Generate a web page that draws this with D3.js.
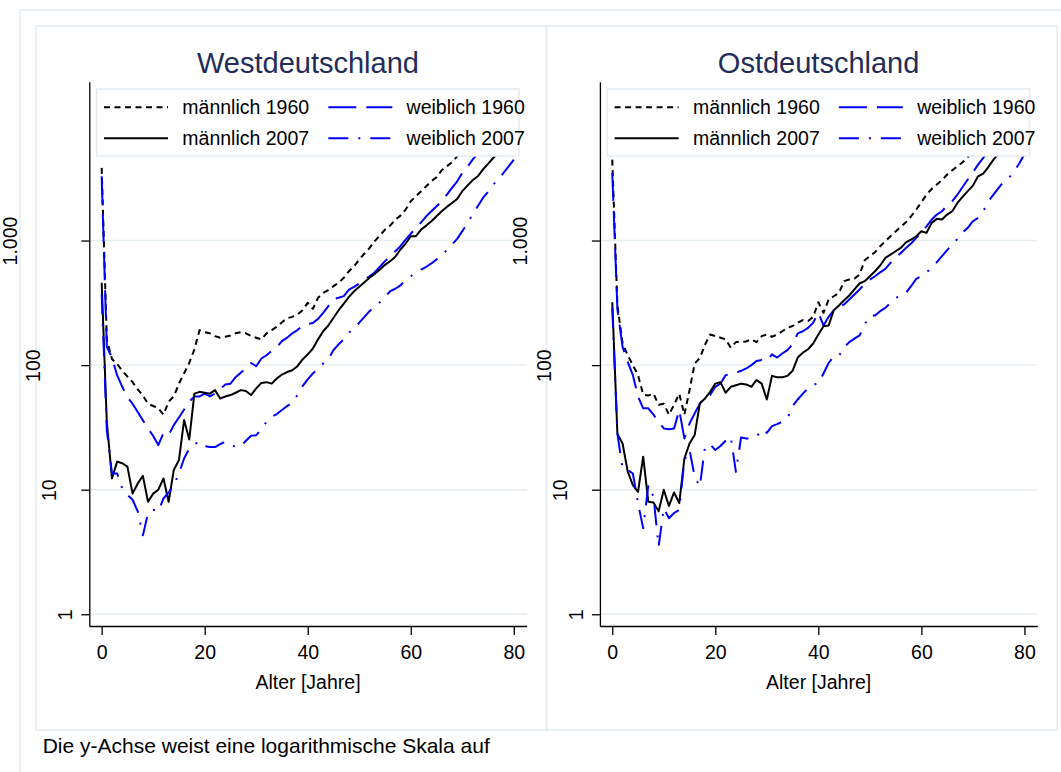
<!DOCTYPE html>
<html lang="de">
<head>
  <meta charset="UTF-8">
  <title>Sterblichkeit nach Alter</title>
  <script src="https://d3js.org/d3.v7.min.js"></script>
  <style>
    body { margin: 0; background: #fff; }
    svg { display: block; }
    text { font-family: "Liberation Sans", Arial, Helvetica, sans-serif; }
  </style>
</head>
<body>
  <svg id="chart" width="1061" height="772"></svg>
  <script>
    // ---- data (Sterbefälle je 100.000, log-Skala) ----
    const ages = [0,1,2,3,4,5,6,7,8,9,10,11,12,13,14,15,16,17,18,19,20,21,22,23,24,25,26,27,28,29,30,
      31,32,33,34,35,36,37,38,39,40,41,42,43,44,45,46,47,48,49,50,51,52,53,54,55,56,57,58,59,60,
      61,62,63,64,65,66,67,68,69,70,71,72,73,74,75,76,77,78,79,80];

    const regions = ["Westdeutschland", "Ostdeutschland"];
    const seriesNames = ["männlich 1960", "weiblich 1960", "männlich 2007", "weiblich 2007"];

    const westMale1960 = [3830,160,112,102,90,81,73,64,57,49,47,45,40,51,56,71,86,104,134,191,
      184,180,171,166,169,173,180,184,180,171,166,161,180,191,203,221,238,244,255,276,
      316,283,347,380,400,430,458,502,567,622,704,787,872,988,1097,1225,1318,1473,1585,1773,
      2069,2270,2490,2730,2995,3223,3666,3948,4250,4747,5250,5800,6400,7000,7700,8400,9200,10100,11000,12000,13000];
    const westFemale1960 = [3280,140,115,83,67,55,49,42,36,31,27,22.8,28.6,27.5,33,38,44,51,56,56,
      59,56,59,64,70,71,80,87,94,104,98,113,120,130,140,156,166,180,191,208,
      214,218,235,263,297,340,347,358,404,425,452,486,517,556,616,683,749,821,901,1018,
      1137,1260,1400,1566,1719,1884,2068,2340,2645,2990,3490,3900,4460,5000,5600,6300,7100,8000,9000,10000,11200];
    const westMale2007 = [458,35,12.3,16.8,16.3,15.3,9.3,11.2,12.9,8.0,9.3,10,12.3,8.0,14.4,17.3,36.2,25.3,59,61,
      60,59,63,54,56,57.5,60,63,62,57.5,65,72,73,71,78,84,88,91,98,111,
      122,136,161,187,208,240,276,312,353,392,425,463,502,540,585,638,683,741,847,946,
      1083,1083,1225,1318,1429,1566,1719,1862,2000,2158,2490,2760,3050,3280,3715,4120,4600,5100,5700,6300,7000];
    const westFemale2007 = [370,30,13.5,13.5,10.2,9.1,8.3,6.7,4.3,6.5,6.9,6.7,8.5,9.5,10.9,13.5,17.8,21.4,23.2,24.3,
      22.4,22,22,23.2,24.3,23.2,22,22.4,24.7,27.1,27.4,30.5,35.1,38.5,40.5,43.6,46.9,49.9,57.5,67.9,
      76.8,85.7,94,103,112,132,147,161,182,200,219,244,271,294,320,353,392,410,436,486,
      517,550,585,616,655,705,759,838,929,1031,1189,1386,1618,1884,2198,2455,2815,3090,3490,3945,4465];

    const eastMale1960 = [4460,300,150,120,100,83,58,57,59,48,49,40,48,59,40,63,103,114,146,176,
      171,166,161,138,153,153,155,161,153,171,176,169,176,187,199,206,219,230,226,244,
      320,263,336,357,380,472,486,495,533,695,749,806,901,988,1083,1180,1287,1403,1567,1773,
      2029,2338,2595,2816,3050,3390,3666,3948,4250,4680,5200,5800,6500,7200,8000,8800,9700,10700,11800,13000,14300];
    const eastFemale1960 = [3490,280,140,106,83,56,45,45,40,35,31,30.5,31,43.6,25.8,34,41,49,55,57.5,
      67,71,83,85,87,90,94,100,108,110,108,122,115,124,132,147,180,187,199,219,
      263,208,244,276,294,307,336,369,404,452,486,517,556,593,661,725,795,872,946,1050,
      1152,1302,1473,1617,1719,1908,2068,2340,2692,3090,3535,4070,4600,5200,5900,6700,7600,8600,9700,10900,12200];
    const eastMale2007 = [320,28,23.5,14,10.9,9.6,18.4,8.0,7.9,6.7,10,7.4,9.5,7.8,17.8,23.5,27.5,49.3,54,61,
      71,73,60,67,69,71,70,67,76,71,53,82,80,80,82,90,115,126,134,149,
      176,205,208,276,301,332,362,405,452,472,517,567,630,725,771,821,872,968,1018,1083,
      1188,1152,1386,1493,1475,1617,1719,2005,2240,2490,2760,3280,3445,3890,4460,5000,5600,6200,6900,7600,8400];
    const eastFemale2007 = [290,28,14.8,14.4,13.5,7.8,4.9,10.9,8.8,3.5,7.1,5.9,6.5,6.9,17.3,20.8,12.7,10.6,22.1,23.2,
      20.8,22.4,24.7,26.6,13.9,26.3,25.8,25.8,26.6,30.5,28.6,32.4,33.6,35.1,37.3,46.9,53,59,65,70,
      71,85.7,104,118,118,139,153,163,173,212,250,250,271,288,316,347,357,380,430,493,
      517,556,603,670,749,837,929,1031,1166,1264,1429,1520,1719,2068,2340,2645,2990,3185,3600,4150,4930];

    const panelSeries = [
      [westMale1960, westFemale1960, westMale2007, westFemale2007],
      [eastMale1960, eastFemale1960, eastMale2007, eastFemale2007]
    ];

    const xTicks = [0, 20, 40, 60, 80];
    const yTicks = [1, 10, 100, 1000];
    const yTickLabels = ["1", "10", "100", "1.000"];

    // ---- styles ----
    const seriesColor = ["#000", "#0000ff", "#000", "#0000ff"];
    const seriesDash = ["6,4.5", "28,10", null, "20,10,2,10"];
    const frameColor = "#e4ecf0";
    const gridColor = "#e6eef2";
    const titleColor = "#1f2d58";

    const svg = d3.select("#chart");
    svg.append("rect").attr("width", 1061).attr("height", 772).attr("fill", "#fff");

    // outer frame + panel frames
    svg.append("rect").attr("x", 20).attr("y", 10).attr("width", 1100).attr("height", 800)
      .attr("fill", "none").attr("stroke", frameColor).attr("stroke-width", 1.5);

    const panelW = 510.6, plotW = 437.4, plotH = 544.3;
    const x = d3.scaleLinear().domain([-2.4, 82.5]).range([0, plotW]);
    const y = d3.scaleLog().domain([0.805, 18840]).range([plotH, 0]);

    const line = d3.line().x((d, i) => x(ages[i])).y(d => y(d));

    regions.forEach((region, p) => {
      const left = 36 + p * panelW;
      svg.append("rect").attr("x", left).attr("y", 26).attr("width", panelW).attr("height", 704)
        .attr("fill", "none").attr("stroke", frameColor).attr("stroke-width", 1.5);
    });

    regions.forEach((region, p) => {
      const g = svg.append("g").attr("transform", `translate(${89.3 + p * panelW},81.7)`);

      // gridlines
      g.selectAll("line.grid").data(yTicks).join("line")
        .attr("class", "grid")
        .attr("x1", 0).attr("x2", plotW)
        .attr("y1", d => y(d)).attr("y2", d => y(d))
        .attr("stroke", gridColor).attr("stroke-width", 1.5);

      // title
      g.append("text")
        .attr("x", plotW / 2).attr("y", -8.4)
        .attr("text-anchor", "middle")
        .attr("font-size", 29)
        .attr("fill", titleColor)
        .text(region);

      // series
      g.append("clipPath").attr("id", "clip" + p)
        .append("rect").attr("width", plotW).attr("height", plotH);
      const lines = g.append("g").attr("clip-path", `url(#clip${p})`);
      panelSeries[p].forEach((vals, s) => {
        lines.append("path")
          .datum(vals)
          .attr("d", line)
          .attr("fill", "none")
          .attr("stroke", seriesColor[s])
          .attr("stroke-width", 2)
          .attr("stroke-dasharray", seriesDash[s])
          .attr("stroke-linejoin", "round");
      });

      // x axis
      const gx = g.append("g").attr("transform", `translate(0,${plotH})`)
        .call(d3.axisBottom(x).tickValues(xTicks).tickSize(9).tickSizeOuter(0).tickPadding(10));
      gx.select(".domain").attr("stroke", "#000").attr("stroke-width", 1.3);
      gx.selectAll(".tick line").attr("stroke", "#000").attr("stroke-width", 1.3);
      gx.selectAll(".tick text").attr("font-size", 19.5).attr("fill", "#000")
        .attr("font-family", "'Liberation Sans', Arial, sans-serif");

      g.append("text")
        .attr("x", plotW / 2).attr("y", plotH + 63.3)
        .attr("text-anchor", "middle")
        .attr("font-size", 19.5)
        .attr("fill", "#000")
        .text("Alter [Jahre]");

      // y axis
      const gy = g.append("g")
        .call(d3.axisLeft(y).tickValues(yTicks).tickSize(8).tickSizeOuter(0)
          .tickFormat((d, i) => yTickLabels[i]));
      gy.select(".domain").attr("stroke", "#000").attr("stroke-width", 1.3);
      gy.selectAll(".tick line").attr("stroke", "#000").attr("stroke-width", 1.3);
      gy.selectAll(".tick text")
        .attr("font-size", 19.5).attr("fill", "#000")
        .attr("font-family", "'Liberation Sans', Arial, sans-serif")
        .attr("text-anchor", "middle")
        .attr("x", null).attr("dy", null)
        .each(function () {
          const w = this.getComputedTextLength();
          d3.select(this).attr("transform", `translate(${-(1 + 1.47 * w)},0) rotate(-90)`);
        });

      // legend
      const lg = g.append("g").attr("transform", "translate(7.4,7.3)");
      lg.append("rect").attr("width", 422.3).attr("height", 67)
        .attr("fill", "#fff").attr("stroke", frameColor).attr("stroke-width", 1.5);
      const legendPos = [[0, 0], [1, 0], [0, 1], [1, 1]];
      seriesNames.forEach((name, s) => {
        const [col, row] = legendPos[s];
        const lx = 7.3 + col * 224.3;
        const ly = 18.3 + row * 31;
        lg.append("line")
          .attr("x1", lx).attr("x2", lx + 64)
          .attr("y1", ly).attr("y2", ly)
          .attr("stroke", seriesColor[s]).attr("stroke-width", 2)
          .attr("stroke-dasharray", seriesDash[s]);
        lg.append("text")
          .attr("x", lx + 78.3).attr("y", ly + 7)
          .attr("font-size", 19.5).attr("fill", "#000")
          .text(name);
      });
    });

    svg.append("text")
      .attr("x", 42.7).attr("y", 753)
      .attr("font-size", 21).attr("fill", "#000")
      .text("Die y-Achse weist eine logarithmische Skala auf");
  </script>
</body>
</html>
